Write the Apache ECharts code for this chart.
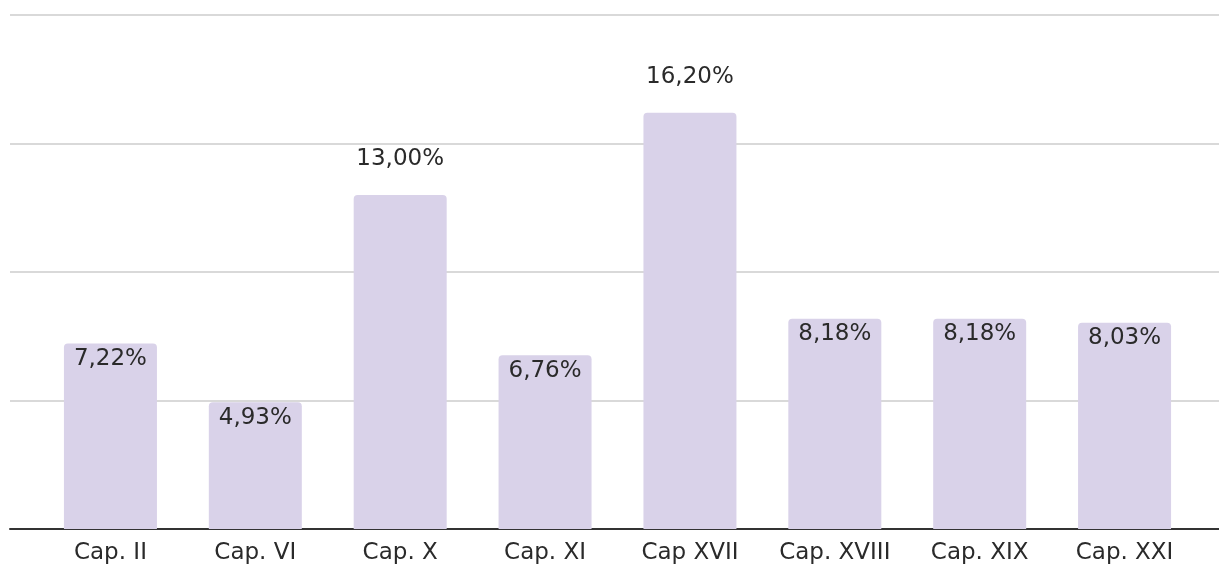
<!DOCTYPE html>
<html>
<head>
<meta charset="utf-8">
<style>
  html, body { margin: 0; padding: 0; background: #ffffff; }
  #chart { width: 1219px; height: 568px; }
</style>
<script src="https://cdn.jsdelivr.net/npm/echarts@6/dist/echarts.min.js"></script>
</head>
<body>
<div id="chart"></div>
<script>
const categories = ['Cap. II', 'Cap. VI', 'Cap. X', 'Cap. XI', 'Cap XVII', 'Cap. XVIII', 'Cap. XIX', 'Cap. XXI'];
const values = [7.22, 4.93, 13.00, 6.76, 16.20, 8.18, 8.18, 8.03];
const yMin = 0, yMax = 20, yStep = 5;

const FONT = '"DejaVu Sans", sans-serif';
const fmt = v => v.toFixed(2).replace('.', ',') + '%';

const chart = echarts.init(document.getElementById('chart'));
chart.setOption({
  animation: false,
  backgroundColor: '#ffffff',
  grid: [
    { left: 10, right: 0, top: 15, bottom: 39 },
    { left: 38, right: 22, top: 15, bottom: 39 }
  ],
  xAxis: [
    {
      gridIndex: 0, type: 'value', min: 0, max: 1,
      axisLine: { show: true, onZero: false, lineStyle: { color: '#333333', width: 2 } },
      axisTick: { show: false }, axisLabel: { show: false }, splitLine: { show: false }
    },
    {
      gridIndex: 1, type: 'category', data: categories,
      axisLine: { show: false }, axisTick: { show: false },
      axisLabel: { interval: 0, hideOverlap: false, color: '#2a2a2a', fontFamily: FONT, fontSize: 23, margin: 13 }
    }
  ],
  yAxis: [
    {
      gridIndex: 0, type: 'value', min: yMin, max: yMax, interval: yStep,
      axisLine: { show: false }, axisTick: { show: false }, axisLabel: { show: false },
      splitLine: { show: true, lineStyle: { color: '#cccccc', width: 1.5 } }
    },
    {
      gridIndex: 1, type: 'value', min: yMin, max: yMax, interval: yStep,
      axisLine: { show: false }, axisTick: { show: false }, axisLabel: { show: false },
      splitLine: { show: false }
    }
  ],
  series: [{
    type: 'bar',
    xAxisIndex: 1, yAxisIndex: 1,
    barWidth: 93,
    itemStyle: { color: '#d9d2e9', borderRadius: [4, 4, 0, 0] },
    data: values.map(v => ({
      value: v,
      label: v > 10
        ? { position: 'top', distance: 24 }
        : { position: 'insideTop', distance: 4 }
    })),
    label: {
      show: true,
      color: '#2a2a2a',
      fontFamily: FONT,
      fontSize: 23,
      formatter: p => fmt(p.value)
    },
    z: 1
  }]
});
</script>
</body>
</html>
